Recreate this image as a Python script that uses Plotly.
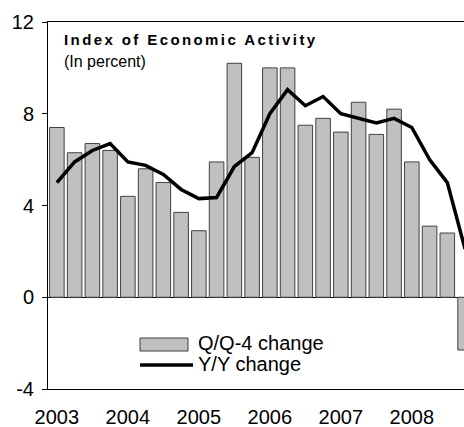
import plotly.graph_objects as go

# quarterly data, 2003Q1 - 2008Q4
quarters = [f"{y}Q{q}" for y in range(2003, 2009) for q in range(1, 5)]
qq4_change = [7.4, 6.3, 6.7, 6.4,
              4.4, 5.6, 5.0, 3.7,
              2.9, 5.9, 10.2, 6.1,
              10.0, 10.0, 7.5, 7.8,
              7.2, 8.5, 7.1, 8.2,
              5.9, 3.1, 2.8, -2.3]
yy_change = [5.0, 5.9, 6.4, 6.7,
             5.9, 5.75, 5.35, 4.7,
             4.3, 4.35, 5.7, 6.3,
             8.0, 9.05, 8.35, 8.75,
             8.0, 7.8, 7.6, 7.8,
             7.4, 6.0, 5.0, 2.1]
year_ticks = ["2003Q1", "2004Q1", "2005Q1", "2006Q1", "2007Q1", "2008Q1"]
year_labels = ["2003", "2004", "2005", "2006", "2007", "2008"]
y_ticks = [-4, 0, 4, 8, 12]
y_labels = ["-4", "0", "4", "8", "12"]

FONT = "Arial, Liberation Sans, sans-serif"

# plot area in page pixels
L, T, W, H = 48, 22, 416, 367


def px_x(x):
    return (x - L) / W


def px_y(y):
    return 1 - (y - T) / H


fig = go.Figure()
fig.add_trace(go.Bar(x=quarters, y=qq4_change, name="Q/Q-4 change",
                     marker=dict(color="#c0c0c0", line=dict(color="#404040", width=1)),
                     showlegend=False))
fig.add_trace(go.Scatter(x=quarters, y=yy_change, mode="lines", name="Y/Y change",
                         line=dict(color="black", width=3.5), showlegend=False))

# hand-made legend (wide swatches like the original)
fig.add_shape(type="rect", xref="paper", yref="paper",
              x0=px_x(140), x1=px_x(188), y0=px_y(351), y1=px_y(338),
              fillcolor="#c0c0c0", line=dict(color="#404040", width=1))
fig.add_shape(type="line", xref="paper", yref="paper",
              x0=px_x(140), x1=px_x(193), y0=px_y(365), y1=px_y(365),
              line=dict(color="black", width=3.5))
fig.add_annotation(text="Q/Q-4 change", xref="paper", yref="paper",
                   x=px_x(196), y=px_y(343),
                   xanchor="left", yanchor="middle", showarrow=False,
                   font=dict(size=20, color="black", family=FONT))
fig.add_annotation(text="Y/Y change", xref="paper", yref="paper",
                   x=px_x(196), y=px_y(364),
                   xanchor="left", yanchor="middle", showarrow=False,
                   font=dict(size=20, color="black", family=FONT))

# titles
fig.add_annotation(text="<b><span style='letter-spacing:2.4px'>Index of Economic Activity</span></b>",
                   xref="paper", yref="paper", x=px_x(62), y=px_y(39),
                   xanchor="left", yanchor="middle", showarrow=False,
                   font=dict(size=15, color="black", family=FONT))
fig.add_annotation(text="(In percent)", xref="paper", yref="paper",
                   x=px_x(62), y=px_y(61.5),
                   xanchor="left", yanchor="middle", showarrow=False,
                   font=dict(size=16, color="black", family=FONT))

fig.update_layout(
    width=464, height=427,
    margin=dict(l=L, r=464 - L - W, t=T, b=427 - T - H),
    paper_bgcolor="white", plot_bgcolor="white",
    bargap=0.18,
    font=dict(family=FONT, size=20, color="black"),
    xaxis=dict(type="category", range=[-0.5, 22.94], automargin=False,
               tickvals=year_ticks, ticktext=year_labels,
               ticks="outside", ticklen=10, tickcolor="rgba(0,0,0,0)",
               showline=True, linecolor="black", linewidth=1, mirror=True,
               showgrid=False, tickfont=dict(size=20)),
    yaxis=dict(range=[-4, 12], tickvals=y_ticks, ticktext=y_labels, automargin=False,
               ticks="outside", ticklen=5, tickcolor="black", ticklabelstandoff=4,
               showline=True, linecolor="black", linewidth=1,
               showgrid=False, zeroline=True, zerolinecolor="black", zerolinewidth=1,
               tickfont=dict(size=20)),
)

# drop the default page margin so the figure sits at the top-left corner
fig.write_html("out.html", config={"displayModeBar": False},
               post_script="document.body.style.margin='0';document.body.style.overflow='hidden';")
